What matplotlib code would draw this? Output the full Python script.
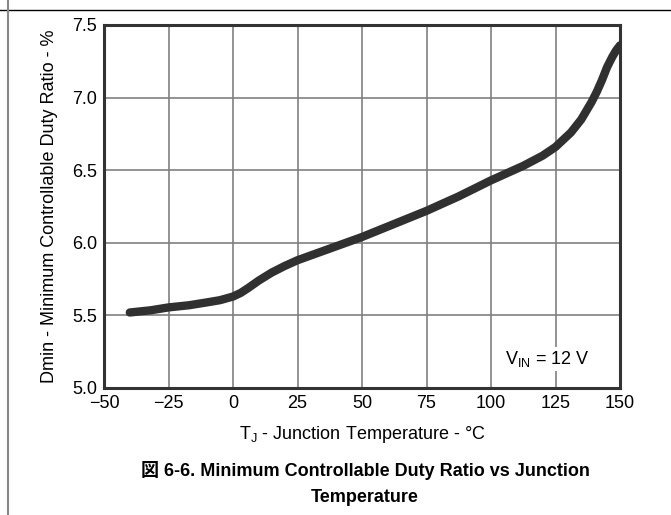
import matplotlib
matplotlib.use("Agg")
import matplotlib.pyplot as plt
from matplotlib.lines import Line2D

# values
temp_c = [-40, -32, -25, -17, -10, -5, 0, 3, 6, 10, 15, 20, 25, 37.5, 50, 62.5, 75,
          87.5, 100, 112.5, 120, 125, 131, 135, 139, 141, 143, 145, 147, 148.5, 150]
dmin_pct = [5.52, 5.535, 5.555, 5.57, 5.59, 5.605, 5.63, 5.655, 5.69, 5.74, 5.795, 5.84,
            5.88, 5.96, 6.04, 6.13, 6.22, 6.32, 6.43, 6.53, 6.60, 6.66, 6.76, 6.85,
            6.97, 7.04, 7.12, 7.21, 7.28, 7.325, 7.36]

x_ticks = [-50, -25, 0, 25, 50, 75, 100, 125, 150]
x_ticklabels = ["\u221250", "\u221225", "0", "25", "50", "75", "100", "125", "150"]
y_ticks = [5.0, 5.5, 6.0, 6.5, 7.0, 7.5]

font = ["Liberation Sans", "Noto Sans CJK JP", "DejaVu Sans"]
plt.rcParams["font.family"] = font

fig = plt.figure(figsize=(6.71, 5.15), dpi=100)
ax = fig.add_axes([104/671, 1 - 388/515, 516/671, 363/515])

ax.plot(temp_c, dmin_pct, color="#303030", lw=6, solid_capstyle="round",
        solid_joinstyle="round", zorder=3)

ax.set_xlim(-50, 150)
ax.set_ylim(5.0, 7.5)
ax.set_xticks(x_ticks)
ax.set_xticklabels(x_ticklabels)
ax.set_yticks(y_ticks)
ax.set_yticklabels([f"{v:.1f}" for v in y_ticks])
ax.tick_params(length=0, labelsize=13, pad=5, colors="black")
ax.grid(True, color="#808080", lw=1.2)
ax.set_axisbelow(True)
for s in ax.spines.values():
    s.set_color("#333333")
    s.set_linewidth(2.2)

ax.set_xlabel("T$_\\mathregular{J}$ - Junction Temperature - \u00b0C", fontsize=13, labelpad=9)
ax.set_ylabel("Dmin - Minimum Controllable Duty Ratio - %", fontsize=13, labelpad=10)

ax.text(122, 5.2, "V$_\\mathregular{IN}$ = 12 V", fontsize=13, ha="center", va="center",
        bbox=dict(facecolor="white", edgecolor="none", pad=1.5), zorder=2)

fig.text(365/671, 1 - 470/515, "\u56f3 6-6. Minimum Controllable Duty Ratio vs Junction",
         fontsize=13, fontweight="bold", ha="center", va="center")
fig.text(365/671, 1 - 497/515, "Temperature", fontsize=13, fontweight="bold",
         ha="center", va="center")

# page frame lines
fig.add_artist(Line2D([0, 1], [1 - 10/515, 1 - 10/515], color="black", lw=1.0))
fig.add_artist(Line2D([7.5/671, 7.5/671], [0, 1], color="#888888", lw=1.5))

fig.savefig("out.png", dpi=100)
